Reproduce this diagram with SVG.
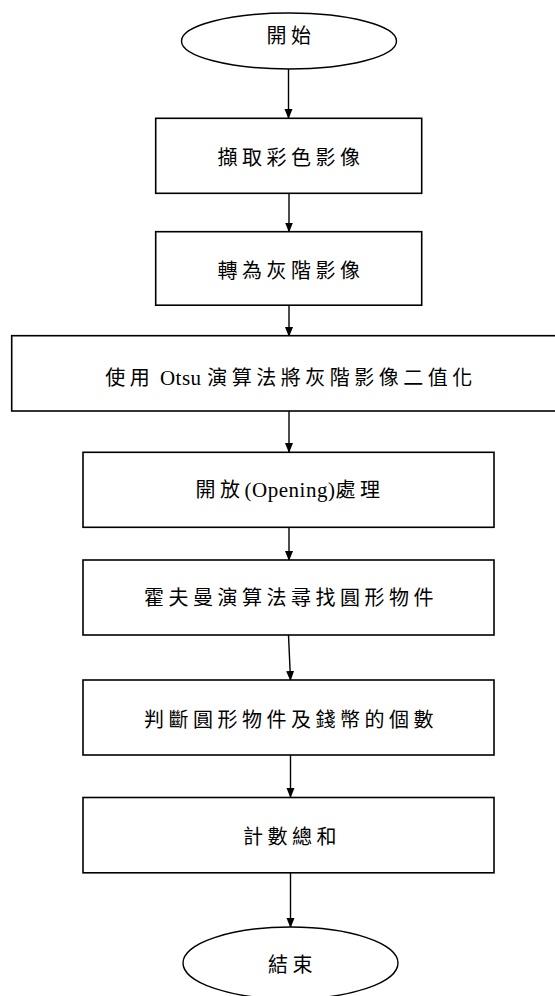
<svg xmlns="http://www.w3.org/2000/svg" width="555" height="996" viewBox="0 0 555 996">
<defs>
<marker id="ah" markerWidth="10" markerHeight="10" refX="9" refY="4" orient="auto" markerUnits="userSpaceOnUse">
<path d="M0,0 L10,4 L0,8 Z" fill="#000"/>
</marker>
<style>
.box{fill:#fff;stroke:#000;stroke-width:1.6}
.t{font-family:"Liberation Serif","Noto Sans CJK TC",serif;font-size:20px;fill:#000;text-anchor:middle;letter-spacing:4.5px}
.lat{letter-spacing:0.5px;font-size:21px}
.c{stroke:#000;stroke-width:1.4;fill:none;marker-end:url(#ah)}
</style>
</defs>
<rect width="555" height="996" fill="#fff"/>
<g id="connectors">
<line class="c" x1="288.5" y1="69" x2="288.5" y2="118"/>
<line class="c" x1="289" y1="193" x2="289" y2="231.5"/>
<line class="c" x1="289" y1="305" x2="289" y2="336"/>
<line class="c" x1="289" y1="411" x2="289" y2="452"/>
<line class="c" x1="289" y1="527" x2="289" y2="560"/>
<line class="c" x1="288.5" y1="635" x2="290.5" y2="680"/>
<line class="c" x1="290.5" y1="755" x2="290.5" y2="797"/>
<line class="c" x1="290.5" y1="873" x2="290.5" y2="927"/>
</g>
<g id="start">
<ellipse cx="289" cy="41" rx="107.5" ry="28" fill="#fff" stroke="#000" stroke-width="1.4"/>
<text class="t" x="291" y="43">開始</text>
</g>
<g id="n1">
<rect class="box" x="155.7" y="118.3" width="266" height="75"/>
<text class="t" x="291" y="165">擷取彩色影像</text>
</g>
<g id="n2">
<rect class="box" x="155.7" y="231.7" width="266" height="73.5"/>
<text class="t" x="291" y="278">轉為灰階影像</text>
</g>
<g id="n3">
<rect class="box" x="11.7" y="335.7" width="555" height="75.3"/>
<text class="t" x="291" y="385">使用<tspan class="lat"> Otsu </tspan>演算法將灰階影像二值化</text>
</g>
<g id="n4">
<rect class="box" x="83" y="452.3" width="411" height="75"/>
<text class="t" x="290" y="497">開放<tspan class="lat">(Opening)</tspan>處理</text>
</g>
<g id="n5">
<rect class="box" x="83" y="560" width="411" height="75"/>
<text class="t" x="291" y="605">霍夫曼演算法尋找圓形物件</text>
</g>
<g id="n6">
<rect class="box" x="83" y="680" width="411" height="75"/>
<text class="t" x="291" y="727">判斷圓形物件及錢幣的個數</text>
</g>
<g id="n7">
<rect class="box" x="83" y="797.5" width="411" height="75.3"/>
<text class="t" x="292" y="844">計數總和</text>
</g>
<g id="end">
<ellipse cx="290.5" cy="963" rx="107.5" ry="36" fill="#fff" stroke="#000" stroke-width="1.4"/>
<text class="t" x="292.5" y="972">結束</text>
</g>
</svg>
